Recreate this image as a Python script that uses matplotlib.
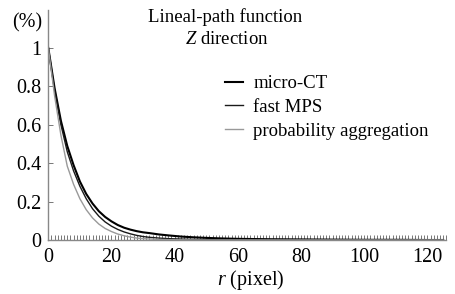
import matplotlib
matplotlib.use("Agg")
import matplotlib.pyplot as plt
from matplotlib.ticker import MultipleLocator

plt.rcParams['font.family'] = ['Liberation Serif', 'DejaVu Serif']
plt.rcParams['mathtext.fontset'] = 'custom'
plt.rcParams['mathtext.rm'] = 'Liberation Serif'
plt.rcParams['mathtext.it'] = 'Liberation Serif:italic'

# r (pixel) sample positions and lineal-path values
r_ct = [0, 2, 4, 6, 8, 10, 12, 14, 16, 18, 20, 22, 24, 26, 28, 30, 32, 35, 38, 42, 46, 50, 55, 60, 70, 80, 90, 100, 110, 120, 125]
micro_ct = [1.0, 0.79, 0.62, 0.49, 0.39, 0.305, 0.24, 0.19, 0.15, 0.12, 0.097, 0.078, 0.064, 0.054, 0.046, 0.040, 0.036, 0.029, 0.024, 0.018, 0.014, 0.011, 0.008, 0.006, 0.004, 0.003, 0.002, 0.001, 0.001, 0.0, 0.0]

r_mps = [0, 2, 4, 6, 8, 10, 12, 14, 16, 18, 20, 22, 24, 26, 28, 30, 32, 35, 38, 42, 46, 50, 60, 70, 80, 100, 125]
fast_mps = [1.0, 0.78, 0.6, 0.46, 0.36, 0.28, 0.215, 0.163, 0.124, 0.094, 0.072, 0.055, 0.042, 0.032, 0.024, 0.018, 0.014, 0.010, 0.007, 0.005, 0.003, 0.002, 0.001, 0.0, 0.0, 0.0, 0.0]

r_pa = [0, 2, 4, 6, 8, 10, 12, 14, 16, 18, 20, 22, 24, 26, 28, 30, 35, 40, 50, 60, 80, 100, 125]
prob_agg = [1.0, 0.75, 0.545, 0.385, 0.29, 0.215, 0.158, 0.115, 0.083, 0.06, 0.044, 0.031, 0.022, 0.015, 0.010, 0.007, 0.003, 0.001, 0.0, 0.0, 0.0, 0.0, 0.0]

series_labels = ['micro-CT', 'fast MPS', 'probability aggregation']
x_ticks = [0, 20, 40, 60, 80, 100, 120]
y_ticks = [0, 0.2, 0.4, 0.6, 0.8, 1.0]
y_tick_labels = ['0', '0.2', '0.4', '0.6', '0.8', '1']

W, H = 455, 294
fig = plt.figure(figsize=(W / 100, H / 100), dpi=100)
ax = fig.add_axes([48.3 / W, (H - 240) / H, 398 / W, 230.4 / H])

ax.plot(r_ct, micro_ct, color='black', lw=1.5, label=series_labels[0])
ax.plot(r_mps, fast_mps, color='#1a1a1a', lw=1.0, label=series_labels[1])
ax.plot(r_pa, prob_agg, color='#999999', lw=1.0, label=series_labels[2])

ax.set_xlim(0, 126)
ax.set_ylim(0, 1.2)
ax.set_xticks(x_ticks)
ax.set_yticks(y_ticks)
ax.set_yticklabels(y_tick_labels)
ax.xaxis.set_minor_locator(MultipleLocator(1))

for s in ['top', 'right']:
    ax.spines[s].set_visible(False)
for s in ['left', 'bottom']:
    ax.spines[s].set_color('#888888')
    ax.spines[s].set_linewidth(1.0)

ax.tick_params(axis='both', which='both', direction='in', color='#777777', width=0.7, labelsize=14.5)
ax.tick_params(axis='x', which='both', length=3.5, pad=6)
ax.tick_params(axis='y', which='major', length=3.5, pad=5)

ax.set_xlabel(r'$r$ (pixel)', fontsize=14.5, labelpad=0)
ax.xaxis.set_label_coords((251 - 48.3) / 398, -(280 - 240) / 230.4)
ax.xaxis.label.set_va('center')

fig.text(27 / W, 1 - 23 / H, '(%)', fontsize=14.5, ha='center', va='center')
fig.text(225 / W, 1 - 17 / H, 'Lineal-path function', fontsize=13.5, ha='center', va='center')
fig.text(227 / W, 1 - 39 / H, r'$Z$ direction', fontsize=13.5, ha='center', va='center')

leg = ax.legend(loc='upper left', bbox_to_anchor=(225 / W, 1 - 75 / H), bbox_transform=fig.transFigure,
                frameon=False, fontsize=13.5, handlelength=0.95, handletextpad=0.55,
                labelspacing=0.36, borderpad=0, borderaxespad=0)

fig.savefig('out.png', dpi=100)
